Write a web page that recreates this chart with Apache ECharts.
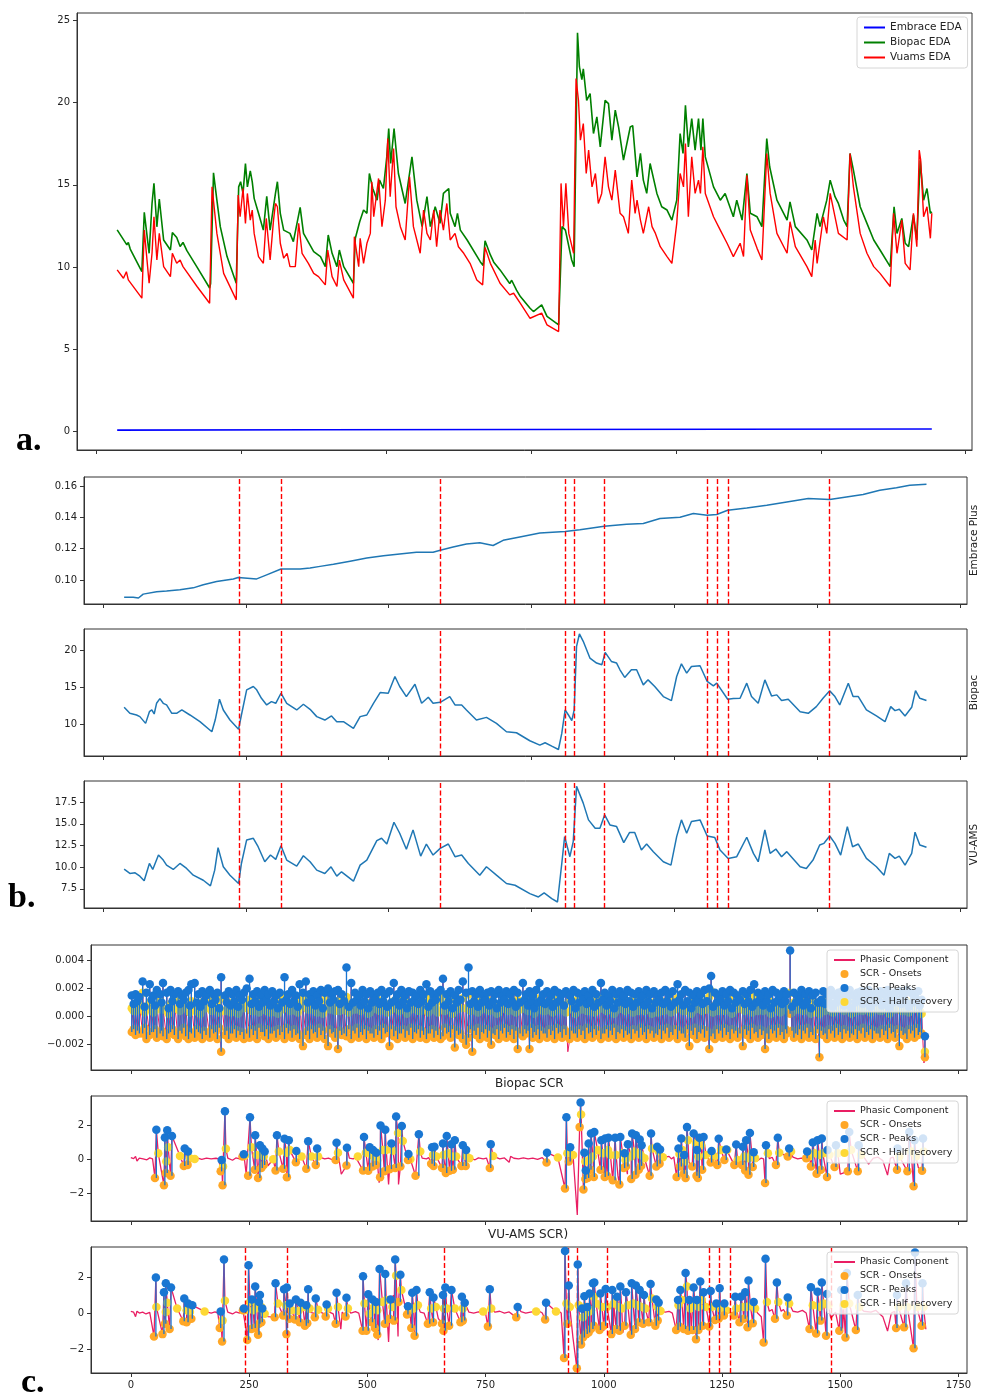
<!DOCTYPE html>
<html>
<head>
<meta charset="utf-8">
<title>EDA / SCR comparison</title>
<script src="https://cdn.jsdelivr.net/npm/echarts@6/dist/echarts.min.js"></script>
<style>
  html, body { margin: 0; padding: 0; background: #fff; }
  #chart { width: 981px; height: 1399px; }
</style>
</head>
<body>
<div id="chart"></div>
<script>
// ---------- shared x (sample index) ----------
const eventLines = [241, 330, 663, 925, 944, 1008, 1223, 1244, 1267, 1480];
const timeTicks = [-44, 256, 555, 855, 1154, 1454, 1753];      // panels a, b (no labels)
const sampleTicks = [0, 250, 500, 750, 1000, 1250, 1500, 1750]; // panel c

// ---------- panel a: raw EDA ----------
const edaTicks = [0, 5, 10, 15, 20, 25];
const embraceEda = [[0, 0.09], [420, 0.11], [840, 0.13], [1260, 0.145], [1683, 0.161]];
const biopacEda = [
  [0,12.26],[20,11.35],[23,11.5],[27,11.1],[51,9.73],[56,13.33],[66,10.84],[72,13.87],[76,15.1],[82,12.45],
  [87,14.14],[96,11.65],[110,11.04],[114,12.1],[118,12.0],[123,11.8],[130,11.25],[136,11.5],[144,11.0],[165,10.0],
  [191,8.73],[193,9.0],[199,15.73],[206,14.07],[213,12.46],[227,10.64],[246,9.02],[251,14.88],[255,15.19],[260,14.48],
  [265,16.3],[269,14.88],[275,15.85],[279,15.2],[283,14.18],[292,13.27],[302,12.25],[309,14.3],[316,12.25],[327,14.48],
  [331,15.19],[337,13.27],[344,12.25],[357,12.05],[364,11.55],[378,13.63],[385,12.05],[406,10.94],[420,10.64],[430,10.03],
  [436,11.95],[444,10.84],[454,10.03],[459,11.04],[468,10.03],[488,9.02],[492,11.75],[501,12.76],[509,13.47],[516,13.27],
  [521,15.69],[528,14.78],[537,14.07],[542,15.29],[550,14.78],[557,16.7],[561,18.42],[565,16.3],[572,18.42],[581,15.69],
  [595,13.87],[609,16.7],[619,14.07],[630,12.46],[640,14.28],[647,12.46],[657,13.67],[667,12.66],[674,14.48],[685,14.78],
  [688,13.27],[698,12.46],[703,13.27],[709,12.25],[723,11.65],[750,10.33],[756,10.1],[760,11.6],[771,10.74],[778,10.3],
  [791,9.83],[811,9.0],[815,9.2],[825,8.6],[833,8.21],[853,7.5],[860,7.3],[877,7.7],[888,7.0],[912,6.49],
  [919,12.46],[926,12.25],[939,10.43],[944,10.03],[951,24.25],[955,22.17],[960,21.4],[963,22.06],[970,20.14],[977,20.55],
  [984,18.12],[991,19.13],[998,17.31],[1008,20.14],[1015,19.94],[1022,17.72],[1029,19.54],[1036,18.5],[1046,16.5],[1060,18.52],
  [1065,18.6],[1074,15.49],[1081,16.91],[1087,15.29],[1094,14.48],[1101,16.3],[1115,14.48],[1125,13.67],[1136,13.47],[1146,12.86],
  [1156,14.07],[1163,18.12],[1169,16.91],[1174,19.84],[1180,17.31],[1187,19.03],[1194,17.11],[1201,19.03],[1206,17.11],[1210,19.03],
  [1215,16.7],[1232,14.88],[1246,14.07],[1256,14.48],[1273,13.06],[1280,14.07],[1291,12.86],[1301,15.69],[1308,13.27],[1322,13.06],
  [1332,12.46],[1342,17.82],[1348,16.1],[1363,14.07],[1384,12.86],[1390,13.97],[1401,12.46],[1425,11.65],[1435,11.04],[1446,13.27],
  [1452,12.46],[1466,14.07],[1473,15.29],[1483,14.28],[1490,13.87],[1501,12.86],[1508,12.46],[1514,16.91],[1521,15.9],[1535,13.67],
  [1549,12.66],[1563,11.65],[1576,11.04],[1597,10.03],[1605,13.67],[1611,12.05],[1621,12.96],[1628,11.45],[1635,11.24],[1645,13.17],
  [1652,11.65],[1659,16.5],[1666,14.07],[1673,14.78],[1680,13.27],[1683,13.37]
];
const vuamsEda = [
  [0,9.83],[13,9.32],[19,9.72],[23,9.22],[51,8.11],[56,12.25],[66,9.02],[72,10.84],[76,13.06],[82,10.43],
  [87,12.05],[96,10.03],[110,9.42],[114,10.84],[118,10.84],[123,10.23],[130,10.43],[136,10.03],[165,8.82],[191,7.8],
  [196,14.88],[206,12.05],[220,9.62],[246,8.01],[250,14.38],[254,13.06],[260,14.78],[265,12.66],[269,14.48],[275,12.86],
  [279,13.47],[283,12.05],[292,10.64],[302,10.23],[308,12.96],[316,10.43],[323,12.86],[327,13.87],[331,13.67],[337,11.45],
  [344,10.54],[351,10.84],[357,10.03],[368,10.03],[375,12.66],[382,10.84],[395,10.23],[406,9.62],[416,9.42],[430,8.92],
  [435,11.04],[444,9.42],[454,8.82],[459,10.43],[468,9.22],[488,8.11],[490,11.85],[499,10.03],[502,11.75],[509,10.23],
  [516,11.45],[523,12.05],[526,15.19],[530,13.06],[540,15.39],[547,12.46],[554,14.07],[559,17.82],[564,14.28],[571,17.21],
  [576,13.67],[585,12.46],[595,11.65],[604,15.49],[612,12.46],[626,10.84],[633,13.47],[640,12.05],[647,11.65],[654,13.47],
  [660,11.24],[667,13.47],[674,12.25],[681,13.87],[688,11.65],[698,12.05],[705,11.24],[716,10.84],[729,10.23],[743,9.22],
  [755,8.92],[760,11.2],[771,10.23],[791,9.02],[811,8.31],[819,8.41],[833,7.8],[853,6.89],[877,7.2],[888,6.49],
  [912,6.08],[917,15.09],[922,12.46],[927,15.09],[933,12.05],[943,10.84],[948,21.46],[953,20.14],[957,17.72],[963,18.73],
  [969,15.69],[974,17.11],[981,14.88],[988,15.69],[994,13.87],[1001,14.48],[1008,16.7],[1015,14.88],[1022,14.07],[1029,15.9],
  [1039,13.27],[1046,13.06],[1056,12.05],[1063,15.29],[1070,13.27],[1074,14.07],[1081,12.86],[1087,12.05],[1098,13.67],[1105,12.46],
  [1112,12.05],[1122,11.24],[1136,10.64],[1146,10.23],[1156,12.66],[1163,15.69],[1170,14.88],[1174,17.51],[1180,13.06],[1187,16.7],
  [1194,14.48],[1201,15.29],[1205,14.48],[1210,17.31],[1215,14.48],[1232,13.06],[1246,12.25],[1260,11.45],[1273,10.64],[1287,11.45],
  [1294,10.64],[1301,15.59],[1308,12.25],[1322,11.14],[1332,10.43],[1342,16.91],[1349,14.48],[1363,12.05],[1384,10.84],[1390,12.76],
  [1401,11.24],[1425,10.03],[1435,9.42],[1442,11.65],[1446,10.23],[1459,13.06],[1466,12.05],[1473,14.48],[1483,13.06],[1490,12.05],
  [1508,11.65],[1514,16.91],[1521,14.88],[1535,12.05],[1549,10.84],[1563,10.03],[1576,9.62],[1597,8.82],[1604,13.27],[1611,10.84],
  [1621,12.86],[1628,10.23],[1638,9.83],[1645,13.27],[1652,11.24],[1657,17.11],[1660,16.5],[1666,13.06],[1673,13.67],[1680,11.75],
  [1683,13.27]
];

// ---------- panel b: smoothed tonic signals ----------
const embracePlusTicks = [0.10, 0.12, 0.14, 0.16];
const biopacTicks = [10, 15, 20];
const vuamsTicks = [7.5, 10, 12.5, 15, 17.5];
const embracePlus = [
  [0,0.089],[19,0.089],[30,0.0885],[40,0.091],[68,0.0925],[89,0.093],[117,0.0938],[145,0.095],[166,0.097],[194,0.099],
  [229,0.1007],[239,0.1016],[278,0.1007],[299,0.1033],[329,0.107],[369,0.107],[390,0.1077],[411,0.1087],[439,0.110],[474,0.112],
  [509,0.114],[544,0.1155],[578,0.1166],[613,0.1177],[648,0.1177],[663,0.119],[690,0.121],[718,0.123],[746,0.1237],[774,0.122],
  [795,0.1253],[830,0.1275],[872,0.130],[925,0.131],[956,0.132],[1007,0.1343],[1054,0.1356],[1089,0.136],[1124,0.1392],[1166,0.140],
  [1194,0.1424],[1223,0.1413],[1243,0.1418],[1266,0.1445],[1306,0.146],[1348,0.1477],[1390,0.1498],[1435,0.152],[1480,0.1513],[1515,0.153],
  [1550,0.1545],[1585,0.1573],[1620,0.1588],[1648,0.1605],[1683,0.161]
];
const biopacTonic = [
  [0,12.26],[12,11.45],[26,11.22],[33,11.0],[45,10.09],[53,11.67],[58,11.9],[63,11.36],[68,12.8],[75,13.44],
  [82,12.8],[89,12.58],[100,11.45],[110,11.45],[121,11.9],[138,11.22],[159,10.32],[184,8.96],[191,10.54],[200,13.35],
  [208,11.9],[222,10.54],[240,9.28],[246,11.22],[257,14.62],[271,15.07],[278,14.62],[288,13.48],[299,12.58],[309,13.03],
  [318,12.8],[329,14.16],[341,12.8],[362,11.9],[376,12.67],[390,11.99],[404,11.0],[421,10.54],[435,11.09],[446,10.32],
  [460,10.32],[481,9.41],[495,11.0],[509,11.22],[523,12.8],[537,14.25],[554,14.16],[568,16.42],[578,15.07],[592,13.71],
  [610,15.38],[624,12.8],[638,13.62],[648,12.8],[663,12.94],[683,13.71],[694,12.58],[708,12.58],[718,11.9],[739,10.54],
  [760,10.9],[781,10.09],[802,8.96],[823,8.82],[851,7.74],[872,7.15],[883,7.47],[897,7.01],[911,6.56],[918,8.73],
  [925,11.9],[932,11.22],[939,10.45],[944,11.9],[949,20.5],[955,22.17],[963,21.18],[977,18.91],[991,18.24],[1002,18.0],
  [1009,19.68],[1022,18.46],[1033,18.24],[1040,17.33],[1050,16.29],[1064,17.33],[1075,17.33],[1089,15.29],[1099,15.97],[1113,15.07],
  [1131,13.71],[1148,13.17],[1159,16.42],[1169,18.14],[1180,16.88],[1190,17.78],[1208,17.87],[1223,15.75],[1236,15.16],[1243,15.52],
  [1266,13.35],[1278,13.44],[1292,13.48],[1306,15.52],[1316,13.71],[1330,12.8],[1344,15.97],[1358,13.8],[1369,13.94],[1379,13.17],
  [1393,13.35],[1418,11.67],[1435,11.45],[1452,12.35],[1466,13.48],[1480,14.48],[1491,13.71],[1501,12.58],[1519,15.52],[1529,13.71],
  [1540,13.71],[1557,11.9],[1578,11.09],[1596,10.32],[1608,12.35],[1617,11.81],[1626,11.99],[1638,11.09],[1652,12.26],[1660,14.52],
  [1669,13.48],[1683,13.17]
];
const vuamsTonic = [
  [0,9.78],[12,9.28],[23,9.35],[33,8.97],[42,8.43],[53,10.43],[60,9.74],[72,11.4],[82,10.82],[89,10.24],
  [103,9.74],[117,10.43],[131,9.86],[145,9.08],[166,8.5],[181,7.85],[190,9.66],[197,12.25],[208,10.05],[222,9.08],
  [240,8.12],[246,10.43],[257,13.14],[271,13.33],[281,12.36],[295,10.63],[307,11.4],[318,10.9],[329,12.48],[341,10.82],
  [362,10.13],[376,11.32],[390,10.63],[404,9.66],[421,9.28],[434,10.05],[446,8.97],[456,9.47],[481,8.39],[495,10.24],
  [509,10.82],[530,13.06],[540,13.33],[551,12.67],[566,15.18],[578,13.91],[592,12.06],[606,14.3],[622,11.28],[634,12.67],
  [648,11.4],[663,12.17],[680,12.67],[694,11.21],[708,11.4],[722,10.43],[746,9.08],[760,10.05],[781,9.08],[802,8.12],
  [820,7.92],[851,6.96],[869,6.57],[881,7.04],[897,6.38],[909,5.99],[918,10.43],[924,13.52],[935,11.21],[942,12.94],
  [949,19.31],[963,17.38],[974,15.45],[988,14.49],[998,14.49],[1008,16.03],[1019,14.87],[1033,14.68],[1048,12.83],[1060,13.99],
  [1071,13.99],[1085,11.98],[1096,12.67],[1110,11.79],[1131,10.63],[1147,10.24],[1159,13.52],[1169,15.45],[1180,13.91],[1190,15.26],
  [1208,15.45],[1223,13.6],[1239,13.41],[1250,11.98],[1267,11.01],[1285,11.21],[1306,13.45],[1320,11.59],[1330,10.63],[1344,14.3],
  [1355,11.59],[1367,12.09],[1379,11.21],[1390,11.79],[1418,10.05],[1431,9.86],[1445,10.82],[1459,12.56],[1468,12.75],[1480,13.6],
  [1491,12.75],[1503,11.4],[1517,14.68],[1528,12.36],[1540,12.67],[1557,11.01],[1578,10.05],[1594,9.08],[1605,11.59],[1617,11.01],
  [1626,11.28],[1638,10.24],[1652,11.59],[1659,14.03],[1669,12.56],[1683,12.29]
];

// ---------- panel c: SCR decomposition ----------
const embScrTicks = [-0.002, 0, 0.002, 0.004];
const scrTicks = [-2, 0, 2];
// Embrace: [x, onset, peak, half recovery] - larger responses
const embraceScr = [
  [2,-0.0011,0.0015,0.0006],[10,-0.0013,0.0016,0.0004],[18,-0.0012,0.0014,0.0009],[25,-0.0012,0.0025,0.0017],[33,-0.0016,0.0017,0.0005],
  [40,-0.0013,0.0023,0.0010],[48,-0.0011,0.0015,0.0003],[55,-0.0015,0.0019,0.0008],[62,-0.0012,0.0016,0.0011],[68,-0.0014,0.0024,0.0006],
  [76,-0.0016,0.0017,0.0004],[84,-0.0011,0.0019,0.0009],[92,-0.0013,0.0016,0.0012],[100,-0.0016,0.0018,0.0005],[108,-0.0012,0.0015,0.0013],
  [116,-0.0014,0.0017,0.0007],[122,-0.0016,0.0019,0.0004],[128,-0.0012,0.0023,0.0011],[135,-0.0015,0.0024,0.0008],[143,-0.0011,0.0016,0.0003],
  [151,-0.0016,0.0018,0.0010],[159,-0.0013,0.0015,0.0006],[167,-0.0015,0.0019,0.0012],[175,-0.0012,0.0016,0.0005],[183,-0.0016,0.0017,0.0009],
  [191,-0.0025,0.0028,0.0013],[199,-0.0013,0.0015,0.0004],[207,-0.0016,0.0018,0.0010],[215,-0.0012,0.0016,0.0007],[223,-0.0015,0.0019,0.0003],
  [231,-0.0013,0.0015,0.0011],[239,-0.0016,0.0017,0.0006],[245,-0.0012,0.0020,0.0009],[251,-0.0015,0.0027,0.0012],[259,-0.0013,0.0016,0.0004],
  [267,-0.0016,0.0018,0.0008],[275,-0.0011,0.0015,0.0013],[283,-0.0014,0.0019,0.0005],[291,-0.0016,0.0016,0.0010],[299,-0.0012,0.0018,0.0007],
  [307,-0.0015,0.0015,0.0003],[315,-0.0013,0.0017,0.0011],[325,-0.0016,0.0028,0.0015],[333,-0.0012,0.0016,0.0006],[341,-0.0015,0.0019,0.0009],
  [349,-0.0013,0.0015,0.0004],[357,-0.0016,0.0023,0.0012],[364,-0.0021,0.0017,0.0007],[370,-0.0013,0.0025,0.0013],[378,-0.0016,0.0016,0.0005],
  [386,-0.0012,0.0018,0.0010],[394,-0.0015,0.0015,0.0003],[402,-0.0013,0.0019,0.0008],[410,-0.0016,0.0017,0.0012],[417,-0.0021,0.0020,0.0006],
  [425,-0.0012,0.0016,0.0010],[432,-0.0015,0.0018,0.0004],[438,-0.0023,0.0019,0.0011],[446,-0.0013,0.0016,0.0007],[456,-0.0014,0.0035,0.0014],
  [466,-0.0016,0.0024,0.0009],[474,-0.0012,0.0017,0.0005],[482,-0.0015,0.0015,0.0012],[490,-0.0013,0.0019,0.0006],[498,-0.0016,0.0016,0.0010],
  [506,-0.0012,0.0018,0.0003],[514,-0.0015,0.0015,0.0008],[522,-0.0013,0.0017,0.0012],[530,-0.0016,0.0019,0.0005],[538,-0.0012,0.0016,0.0009],
  [547,-0.0021,0.0018,0.0004],[556,-0.0014,0.0024,0.0011],[564,-0.0016,0.0016,0.0007],[572,-0.0012,0.0019,0.0013],[580,-0.0015,0.0015,0.0005],
  [588,-0.0013,0.0018,0.0010],[596,-0.0016,0.0017,0.0006],[604,-0.0012,0.0015,0.0012],[612,-0.0015,0.0019,0.0004],[619,-0.0013,0.0016,0.0009],
  [625,-0.0016,0.0023,0.0013],[633,-0.0012,0.0018,0.0006],[641,-0.0015,0.0015,0.0010],[649,-0.0013,0.0017,0.0003],[655,-0.0016,0.0019,0.0011],
  [660,-0.0014,0.0027,0.0015],[668,-0.0012,0.0016,0.0007],[676,-0.0015,0.0018,0.0012],[685,-0.0022,0.0015,0.0005],[693,-0.0013,0.0019,0.0009],
  [702,-0.0016,0.0025,0.0013],[709,-0.0020,0.0017,0.0006],[714,-0.0015,0.0035,0.0016],[722,-0.0025,0.0018,0.0010],[730,-0.0013,0.0016,0.0004],
  [738,-0.0016,0.0019,0.0011],[746,-0.0012,0.0015,0.0007],[754,-0.0015,0.0017,0.0012],[762,-0.0020,0.0018,0.0005],[770,-0.0013,0.0016,0.0009],
  [778,-0.0016,0.0019,0.0003],[786,-0.0012,0.0015,0.0011],[794,-0.0015,0.0018,0.0006],[802,-0.0013,0.0016,0.0010],[810,-0.0016,0.0019,0.0004],
  [818,-0.0023,0.0017,0.0012],[829,-0.0014,0.0024,0.0008],[836,-0.0012,0.0016,0.0005],[843,-0.0023,0.0018,0.0011],[850,-0.0015,0.0015,0.0007],
  [857,-0.0013,0.0019,0.0013],[864,-0.0016,0.0024,0.0009],[872,-0.0012,0.0016,0.0004],[880,-0.0015,0.0018,0.0010],[888,-0.0013,0.0015,0.0006],
  [896,-0.0016,0.0019,0.0012],[904,-0.0012,0.0017,0.0005],[912,-0.0015,0.0016,0.0009],[920,-0.0013,0.0018,0.0003],[928,-0.0016,0.0015,0.0011],
  [936,-0.0012,0.0019,0.0007],[944,-0.0015,0.0017,0.0012],[952,-0.0013,0.0016,0.0005],[960,-0.0016,0.0018,0.0009],[968,-0.0012,0.0015,0.0004],
  [976,-0.0015,0.0019,0.0011],[984,-0.0013,0.0016,0.0007],[994,-0.0016,0.0024,0.0013],[1002,-0.0012,0.0017,0.0006],[1010,-0.0015,0.0015,0.0010],
  [1018,-0.0013,0.0019,0.0004],[1026,-0.0016,0.0016,0.0012],[1034,-0.0012,0.0018,0.0008],[1042,-0.0015,0.0015,0.0005],[1050,-0.0013,0.0019,0.0011],
  [1058,-0.0016,0.0017,0.0007],[1066,-0.0012,0.0016,0.0013],[1074,-0.0015,0.0018,0.0004],[1082,-0.0013,0.0015,0.0009],[1090,-0.0016,0.0019,0.0012],
  [1098,-0.0012,0.0016,0.0006],[1106,-0.0015,0.0018,0.0010],[1114,-0.0013,0.0015,0.0003],[1122,-0.0016,0.0017,0.0011],[1130,-0.0012,0.0019,0.0007],
  [1138,-0.0015,0.0016,0.0012],[1146,-0.0013,0.0018,0.0005],[1156,-0.0016,0.0023,0.0013],[1164,-0.0012,0.0016,0.0009],[1172,-0.0015,0.0019,0.0004],
  [1181,-0.0021,0.0017,0.0011],[1189,-0.0013,0.0015,0.0007],[1197,-0.0016,0.0018,0.0012],[1205,-0.0012,0.0016,0.0005],[1213,-0.0015,0.0019,0.0010],
  [1223,-0.0023,0.0020,0.0014],[1227,-0.0014,0.0029,0.0018],[1235,-0.0016,0.0017,0.0008],[1243,-0.0012,0.0015,0.0004],[1251,-0.0015,0.0018,0.0011],
  [1259,-0.0013,0.0016,0.0007],[1267,-0.0016,0.0019,0.0012],[1275,-0.0012,0.0017,0.0005],[1283,-0.0015,0.0015,0.0009],[1294,-0.0021,0.0018,0.0013],
  [1302,-0.0013,0.0016,0.0006],[1310,-0.0016,0.0019,0.0010],[1318,-0.0012,0.0023,0.0014],[1326,-0.0015,0.0017,0.0004],[1334,-0.0013,0.0015,0.0011],
  [1341,-0.0023,0.0018,0.0007],[1349,-0.0016,0.0016,0.0012],[1357,-0.0012,0.0019,0.0005],[1365,-0.0015,0.0017,0.0009],[1373,-0.0013,0.0015,0.0003],
  [1381,-0.0016,0.0018,0.0011],[1387,-0.0012,0.0016,0.0007],[1394,0.0002,0.0047,0.0017],[1402,-0.0015,0.0017,0.0010],[1410,-0.0013,0.0015,0.0005],
  [1418,-0.0016,0.0019,0.0012],[1426,-0.0012,0.0016,0.0008],[1434,-0.0015,0.0018,0.0004],[1442,-0.0013,0.0015,0.0011],[1448,-0.0016,0.0017,0.0007],
  [1456,-0.0029,0.0010,0.0002],[1464,-0.0013,0.0018,0.0012],[1472,-0.0016,0.0016,0.0005],[1480,-0.0012,0.0019,0.0009],[1488,-0.0015,0.0015,0.0004],
  [1496,-0.0013,0.0017,0.0011],[1504,-0.0016,0.0018,0.0007],[1512,-0.0012,0.0016,0.0012],[1520,-0.0015,0.0019,0.0005],[1528,-0.0013,0.0015,0.0010],
  [1536,-0.0016,0.0017,0.0004],[1544,-0.0012,0.0018,0.0011],[1552,-0.0015,0.0016,0.0007],[1560,-0.0013,0.0019,0.0012],[1568,-0.0016,0.0015,0.0005],
  [1576,-0.0012,0.0017,0.0009],[1584,-0.0015,0.0018,0.0004],[1592,-0.0013,0.0016,0.0011],[1600,-0.0016,0.0019,0.0007],[1608,-0.0012,0.0015,0.0012],
  [1616,-0.0015,0.0017,0.0005],[1625,-0.0021,0.0018,0.0010],[1633,-0.0013,0.0016,0.0004],[1641,-0.0016,0.0019,0.0011],[1649,-0.0012,0.0017,0.0007],
  [1657,-0.0015,0.0015,0.0012],[1665,-0.0013,0.0018,0.0005],[1672,-0.0012,0.0012,0.0002],[1679,-0.0029,-0.0014,-0.0025]
];
// Embrace: smaller responses in between
const embraceScrSmall = [
  [6,-0.0009,0.0009,0.0004],[14,-0.0010,0.0011,0.0005],[29,-0.0008,0.0007,0.0003],[44,-0.0011,0.0012,0.0006],[51,-0.0009,0.0008,0.0004],
  [65,-0.0010,0.0010,0.0005],[80,-0.0012,0.0006,0.0002],[88,-0.0009,0.0011,0.0006],[104,-0.0010,0.0009,0.0004],[112,-0.0008,0.0012,0.0007],
  [125,-0.0011,0.0008,0.0003],[139,-0.0009,0.0010,0.0005],[147,-0.0012,0.0007,0.0002],[155,-0.0010,0.0011,0.0006],[171,-0.0009,0.0009,0.0004],
  [179,-0.0011,0.0012,0.0005],[187,-0.0008,0.0006,0.0003],[203,-0.0010,0.0010,0.0005],[211,-0.0012,0.0008,0.0003],[219,-0.0009,0.0011,0.0006],
  [227,-0.0010,0.0007,0.0002],[235,-0.0011,0.0012,0.0006],[255,-0.0009,0.0009,0.0004],[263,-0.0010,0.0011,0.0005],[271,-0.0008,0.0007,0.0003],
  [279,-0.0011,0.0010,0.0006],[287,-0.0009,0.0012,0.0004],[295,-0.0012,0.0008,0.0003],[303,-0.0010,0.0011,0.0005],[311,-0.0009,0.0006,0.0002],
  [320,-0.0011,0.0010,0.0005],[329,-0.0008,0.0012,0.0006],[337,-0.0010,0.0009,0.0004],[345,-0.0009,0.0011,0.0005],[353,-0.0012,0.0007,0.0003],
  [374,-0.0010,0.0010,0.0005],[382,-0.0009,0.0012,0.0006],[390,-0.0011,0.0008,0.0004],[398,-0.0008,0.0011,0.0005],[406,-0.0010,0.0006,0.0002],
  [421,-0.0009,0.0010,0.0005],[428,-0.0011,0.0012,0.0006],[442,-0.0010,0.0009,0.0004],[451,-0.0012,0.0011,0.0005],[461,-0.0009,0.0007,0.0003],
  [470,-0.0010,0.0010,0.0005],[478,-0.0008,0.0012,0.0006],[486,-0.0011,0.0008,0.0004],[494,-0.0009,0.0011,0.0005],[502,-0.0010,0.0006,0.0002],
  [510,-0.0012,0.0010,0.0005],[518,-0.0009,0.0012,0.0006],[526,-0.0010,0.0009,0.0004],[534,-0.0008,0.0011,0.0005],[542,-0.0011,0.0007,0.0003],
  [551,-0.0009,0.0010,0.0005],[560,-0.0010,0.0012,0.0006],[568,-0.0012,0.0008,0.0004],[576,-0.0009,0.0011,0.0005],[584,-0.0010,0.0006,0.0002],
  [592,-0.0008,0.0010,0.0005],[600,-0.0011,0.0012,0.0006],[608,-0.0009,0.0009,0.0004],[616,-0.0010,0.0011,0.0005],[629,-0.0012,0.0007,0.0003],
  [637,-0.0009,0.0010,0.0005],[645,-0.0010,0.0012,0.0006],[664,-0.0008,0.0008,0.0004],[672,-0.0011,0.0011,0.0005],[680,-0.0009,0.0006,0.0002],
  [689,-0.0010,0.0010,0.0005],[697,-0.0012,0.0012,0.0006],[718,-0.0009,0.0009,0.0004],[726,-0.0010,0.0011,0.0005],[734,-0.0008,0.0007,0.0003],
  [742,-0.0011,0.0010,0.0005],[750,-0.0009,0.0012,0.0006],[758,-0.0010,0.0008,0.0004],[766,-0.0012,0.0011,0.0005],[774,-0.0009,0.0006,0.0002],
  [782,-0.0010,0.0010,0.0005],[790,-0.0008,0.0012,0.0006],[798,-0.0011,0.0009,0.0004],[806,-0.0009,0.0011,0.0005],[814,-0.0010,0.0007,0.0003],
  [823,-0.0012,0.0010,0.0005],[833,-0.0009,0.0012,0.0006],[840,-0.0010,0.0008,0.0004],[847,-0.0008,0.0011,0.0005],[853,-0.0011,0.0006,0.0002],
  [861,-0.0009,0.0010,0.0005],[868,-0.0010,0.0012,0.0006],[876,-0.0012,0.0009,0.0004],[884,-0.0009,0.0011,0.0005],[892,-0.0010,0.0007,0.0003],
  [900,-0.0008,0.0010,0.0005],[908,-0.0011,0.0012,0.0006],[916,-0.0009,0.0008,0.0004],[932,-0.0010,0.0011,0.0005],[940,-0.0012,0.0006,0.0002],
  [948,-0.0009,0.0010,0.0005],[956,-0.0010,0.0012,0.0006],[964,-0.0008,0.0009,0.0004],[972,-0.0011,0.0011,0.0005],[980,-0.0009,0.0007,0.0003],
  [989,-0.0010,0.0010,0.0005],[998,-0.0012,0.0012,0.0006],[1006,-0.0009,0.0008,0.0004],[1014,-0.0010,0.0011,0.0005],[1022,-0.0008,0.0006,0.0002],
  [1030,-0.0011,0.0010,0.0005],[1038,-0.0009,0.0012,0.0006],[1046,-0.0010,0.0009,0.0004],[1054,-0.0012,0.0011,0.0005],[1062,-0.0009,0.0007,0.0003],
  [1070,-0.0010,0.0010,0.0005],[1078,-0.0008,0.0012,0.0006],[1086,-0.0011,0.0008,0.0004],[1094,-0.0009,0.0011,0.0005],[1102,-0.0010,0.0006,0.0002],
  [1110,-0.0012,0.0010,0.0005],[1118,-0.0009,0.0012,0.0006],[1126,-0.0010,0.0009,0.0004],[1134,-0.0008,0.0011,0.0005],[1142,-0.0011,0.0007,0.0003],
  [1151,-0.0009,0.0010,0.0005],[1160,-0.0010,0.0012,0.0006],[1168,-0.0012,0.0008,0.0004],[1177,-0.0009,0.0011,0.0005],[1185,-0.0010,0.0006,0.0002],
  [1193,-0.0008,0.0010,0.0005],[1201,-0.0011,0.0012,0.0006],[1209,-0.0009,0.0009,0.0004],[1218,-0.0010,0.0011,0.0005],[1231,-0.0012,0.0007,0.0003],
  [1239,-0.0009,0.0010,0.0005],[1247,-0.0010,0.0012,0.0006],[1255,-0.0008,0.0008,0.0004],[1263,-0.0011,0.0011,0.0005],[1271,-0.0009,0.0006,0.0002],
  [1279,-0.0010,0.0010,0.0005],[1288,-0.0012,0.0012,0.0006],[1298,-0.0009,0.0009,0.0004],[1306,-0.0010,0.0011,0.0005],[1314,-0.0008,0.0007,0.0003],
  [1322,-0.0011,0.0010,0.0005],[1330,-0.0009,0.0012,0.0006],[1337,-0.0010,0.0008,0.0004],[1345,-0.0012,0.0011,0.0005],[1353,-0.0009,0.0006,0.0002],
  [1361,-0.0010,0.0010,0.0005],[1369,-0.0008,0.0012,0.0006],[1377,-0.0011,0.0009,0.0004],[1384,-0.0009,0.0011,0.0005],[1398,-0.0010,0.0007,0.0003],
  [1406,-0.0012,0.0010,0.0005],[1414,-0.0009,0.0012,0.0006],[1422,-0.0010,0.0008,0.0004],[1430,-0.0008,0.0011,0.0005],[1438,-0.0011,0.0006,0.0002],
  [1452,-0.0009,0.0010,0.0005],[1460,-0.0010,0.0012,0.0006],[1468,-0.0012,0.0009,0.0004],[1476,-0.0009,0.0011,0.0005],[1484,-0.0010,0.0007,0.0003],
  [1492,-0.0008,0.0010,0.0005],[1500,-0.0011,0.0012,0.0006],[1508,-0.0009,0.0008,0.0004],[1516,-0.0010,0.0011,0.0005],[1524,-0.0012,0.0006,0.0002],
  [1532,-0.0009,0.0010,0.0005],[1540,-0.0010,0.0012,0.0006],[1548,-0.0008,0.0009,0.0004],[1556,-0.0011,0.0011,0.0005],[1564,-0.0009,0.0007,0.0003],
  [1572,-0.0010,0.0010,0.0005],[1580,-0.0012,0.0012,0.0006],[1588,-0.0009,0.0008,0.0004],[1596,-0.0010,0.0011,0.0005],[1604,-0.0008,0.0006,0.0002],
  [1612,-0.0011,0.0010,0.0005],[1620,-0.0009,0.0012,0.0006],[1629,-0.0010,0.0009,0.0004],[1637,-0.0012,0.0011,0.0005],[1645,-0.0009,0.0007,0.0003],
  [1653,-0.0010,0.0010,0.0005],[1661,-0.0008,0.0012,0.0006],[1668,-0.0011,0.0008,0.0004]
];
const embracePhasicExtra = [[924,-0.0025],[1677,-0.0033]];

// Biopac / VU-AMS: [onsetX, onsetY, peakX, peakY, halfX, halfY]
const biopacScr = [
  [51,-1.12,54,1.72,58,0.33],[70,-1.55,72,1.26,75,-0.15],[74,-0.83,77,1.68,79,0.68],[84,-0.99,87,1.35,104,0.17],
  [112,-0.41,114,0.62,125,0.04],[120,-0.35,121,0.43,135,0.0],[190,-0.73,192,-0.06,195,-0.44],[194,-1.55,199,2.8,201,0.6],
  [236,0.14,239,0.27,241,0.19],[248,-0.99,252,2.45,255,0.68],[262,-0.64,263,1.39,266,0.23],[269,-1.12,273,0.81,280,0.33],
  [276,-0.54,278,0.62,281,0.14],[281,-0.35,283,0.43,301,-0.02],[306,-0.68,309,1.39,313,0.43],[322,-0.58,325,1.18,329,0.37],
  [330,-1.08,334,1.1,336,0.52],[349,-0.19,350,0.46,361,0.14],[371,-0.58,375,1.04,382,0.14],[391,-0.35,394,0.62,396,0.14],
  [433,-0.06,435,0.95,438,0.37],[456,-0.39,457,0.66,480,0.14],[491,-0.68,493,1.29,497,0.37],[502,-0.7,505,0.68,509,0.23],
  [511,-0.44,512,0.52,516,0.04],[518,-0.35,519,0.37,521,-0.06],[527,-1.08,528,1.97,533,0.52],[536,-0.73,538,1.72,540,0.52],
  [547,-0.6,551,0.91,554,0.48],[559,-0.54,561,2.49,565,1.53],[570,-0.44,573,1.93,575,1.06],[586,-0.06,587,0.29,591,-0.02],
  [602,-0.99,609,1.45,612,0.43],[635,-0.29,637,0.68,639,0.23],[640,-0.41,642,0.71,646,0.14],[658,-0.54,660,0.91,661,0.23],
  [666,-0.83,668,1.35,671,0.33],[674,-0.7,678,0.87,680,0.14],[681,-0.64,685,1.1,688,0.14],[699,-0.41,702,0.81,709,0.17],
  [708,-0.41,709,0.52,716,0.04],[759,-0.54,761,0.87,766,0.17],
  [879,-0.21,880,0.37,903,0.08],[918,-1.74,921,2.45,923,0.33],[926,-0.15,929,0.68,935,0.23],[949,1.87,951,3.32,952,2.61],
  [957,-1.8,959,0.37,961,-0.15],[961,-1.18,962,-0.68,964,-0.83],[966,-1.12,968,0.91,970,-0.06],[972,-0.64,973,1.49,977,0.14],
  [979,-1.06,980,1.58,987,0.52],[993,-0.64,995,1.1,998,0.33],[1002,-1.06,1003,1.2,1009,0.52],[1007,-0.99,1010,1.24,1014,0.23],
  [1019,-1.26,1024,1.24,1026,0.23],[1033,-1.51,1035,1.29,1040,0.33],[1042,-0.54,1044,0.33,1046,-0.06],[1047,-0.44,1051,0.87,1058,0.14],
  [1058,-1.18,1060,1.49,1065,0.43],[1067,-0.93,1068,1.39,1072,0.33],[1074,-0.64,1076,1.14,1078,0.23],[1079,-0.41,1080,0.81,1086,0.04],
  [1097,-0.99,1100,1.49,1102,0.62],[1111,-0.44,1113,0.71,1116,0.43],[1118,-0.29,1119,0.56,1125,0.1],[1154,-1.06,1158,0.62,1160,0.29],
  [1161,-0.44,1164,1.2,1166,0.52],[1169,-0.87,1170,0.23,1171,-0.15],[1173,-1.12,1176,1.87,1178,1.1],[1187,-0.44,1190,1.49,1195,0.91],
  [1196,-0.99,1197,0.52,1200,0.14],[1199,-1.12,1202,1.24,1206,0.81],[1208,-0.64,1211,1.29,1216,0.23],[1226,-0.21,1228,0.46,1234,0.14],
  [1240,-0.35,1243,1.18,1248,0.52],[1255,-0.06,1259,0.56,1261,0.52],[1276,-0.35,1280,0.85,1283,-0.06],[1292,-0.35,1294,0.71,1297,0.14],
  [1299,-0.68,1301,1.1,1306,0.04],[1306,-0.93,1309,1.53,1313,0.33],[1315,-0.48,1317,0.39,1320,0.04],[1341,-1.41,1343,0.81,1347,0.33],
  [1364,-0.35,1368,1.24,1371,0.37],[1389,0.14,1392,0.62,1396,0.43],[1428,0.04,1430,0.43,1435,0.14],[1438,-0.44,1442,0.97,1445,0.33],
  [1450,-0.87,1452,1.1,1456,0.23],[1459,-0.64,1461,1.2,1463,0.33],[1472,-1.06,1473,0.52,1477,0.23],[1488,-0.48,1491,0.81,1495,0.33],
  [1516,-0.73,1519,1.58,1523,0.52],[1537,-0.73,1539,0.81,1544,0.23],[1620,-0.64,1621,0.62,1625,0.14],[1642,-0.73,1646,1.58,1650,0.43],
  [1655,-1.6,1657,1.1,1660,0.14],[1673,-0.7,1675,1.2,1676,0.43]
];
const biopacPhasicExtra = [
  [0,0.08],[6,0.02],[10,0.15],[13,-0.12],[18,0.05],[26,0.0],[34,-0.05],[40,0.06],[46,0.0],
  [130,0.02],[140,0.06],[150,-0.03],[160,0.05],[170,0.0],[180,0.04],[186,0.0],[205,0.05],[215,-0.08],[222,0.06],[230,0.0],
  [244,-0.9],[290,-0.4],[400,0.06],[410,0.0],[418,0.05],[426,-0.05],[445,-0.9],[462,0.05],[470,0.0],[476,0.08],
  [525,-1.4],[545,-1.5],[566,-1.5],[616,0.05],[625,0.0],[630,0.08],[720,0.05],[728,-0.05],[735,0.06],[745,0.0],[752,0.05],
  [770,0.1],[780,0.0],[790,0.06],[800,-0.2],[803,0.15],[810,0.04],[820,0.0],[830,0.06],[840,0.0],[850,0.05],[860,-0.03],[870,0.08],
  [944,-3.3],[1000,-0.8],[1030,-1.0],[1050,-0.9],[1130,0.1],[1138,0.15],[1143,0.0],[1148,0.12],[1180,-0.2],
  [1325,-0.1],[1333,0.05],[1338,0.0],[1350,0.02],[1356,0.1],[1360,0.0],[1400,0.1],[1410,0.0],[1418,0.05],[1424,0.02],
  [1500,-0.9],[1550,0.1],[1560,-0.3],[1570,0.05],[1580,0.1],[1590,-0.1],[1600,-0.95],[1606,0.05],[1612,0.1],[1665,-0.5],[1674,-0.8]
];
const vuamsScr = [
  [49,-1.3,53,1.98,54,0.34],[67,-1.17,70,1.15,74,0.06],[72,-0.6,74,1.66,77,0.57],[82,-0.89,85,1.42,98,0.25],
  [111,-0.45,113,0.81,118,0.15],[118,-0.51,121,0.53,125,0.06],[128,-0.32,130,0.43,156,0.09],[188,-0.83,190,0.09,194,-0.42],
  [193,-1.58,197,2.98,199,0.68],[237,0.15,239,0.25,241,0.15],[246,-1.49,249,2.66,252,0.62],[255,-0.89,256,0.75,259,0.15],
  [261,-0.83,263,1.47,266,0.53],[269,-1.21,271,0.62,274,0.25],[271,-0.6,273,1.0,276,0.34],[276,-0.51,278,0.25,283,-0.04],
  [304,-0.23,306,1.66,311,0.53],[322,-0.13,324,1.32,328,0.43],[329,-1.17,330,1.42,333,0.34],[335,-0.32,336,0.53,340,0.15],
  [347,-0.36,349,0.75,354,0.11],[357,-0.51,359,0.57,364,0.34],[368,-0.7,371,0.43,376,0.25],[373,-0.57,375,1.32,378,0.25],
  [389,-0.23,391,0.81,396,0.19],[412,-0.19,414,0.47,417,0.25],[433,-0.6,435,1.13,438,0.34],[454,-0.19,456,0.85,459,0.25],
  [490,-0.98,491,2.04,494,0.53],[498,-0.98,502,1.04,505,-0.04],[509,-0.51,511,0.75,514,0.34],[516,-0.83,518,0.62,521,0.15],
  [521,-1.21,526,2.45,532,0.62],[537,-0.6,538,2.17,540,0.72],[547,-0.32,549,0.75,553,0.34],[556,-0.42,559,2.98,561,2.08],
  [566,0.62,570,2.13,572,1.28],[584,-0.08,586,0.38,590,0.15],[593,-0.83,595,1.13,598,0.25],[600,-1.26,604,1.28,607,0.43],
  [628,-0.6,632,1.15,635,0.25],[639,-0.51,640,0.87,645,0.34],[658,-0.6,660,1.0,662,0.25],[661,-0.98,665,1.42,668,0.25],
  [673,-0.7,678,1.28,685,0.25],[697,-0.51,700,0.91,702,0.25],[702,-0.42,706,0.57,745,0.09],[755,-0.75,759,1.32,762,0.25],
  [815,-0.23,818,0.34,857,0.09],
  [876,-0.36,878,0.57,899,0.09],[916,-2.49,918,3.45,921,0.53],[923,-0.6,926,1.53,928,0.34],[943,-3.06,945,2.7,947,0.43],
  [952,-1.74,954,0.25,956,-0.23],[956,-1.36,959,0.94,961,0.34],[963,-1.17,965,0.34,968,0.06],[968,-1.08,970,1.09,973,0.15],
  [973,-0.89,977,1.66,979,0.91],[979,-0.7,980,1.7,984,0.53],[991,-0.94,993,1.09,996,0.34],[1000,-0.7,1004,1.34,1007,0.34],
  [1016,-1.17,1018,1.28,1021,0.53],[1026,-0.89,1028,0.91,1032,0.34],[1033,-0.98,1035,1.47,1038,0.25],[1044,-0.7,1047,1.15,1051,0.43],
  [1057,-1.21,1059,1.66,1062,0.53],[1066,-0.89,1068,1.53,1072,0.43],[1074,-0.51,1076,1.28,1079,0.34],[1083,-0.6,1085,1.0,1088,0.25],
  [1095,-0.51,1099,1.62,1102,0.81],[1109,-0.7,1111,0.75,1113,0.34],[1114,-0.42,1116,0.58,1120,0.11],[1153,-0.94,1157,0.72,1158,0.43],
  [1160,-0.75,1162,1.28,1165,0.72],[1169,-0.89,1173,2.23,1176,1.47],[1178,-0.98,1181,0.72,1183,0.25],[1188,-0.94,1190,1.42,1193,0.53],
  [1195,-1.45,1197,0.72,1200,0.34],[1200,-0.94,1204,1.75,1207,0.72],[1209,-0.7,1211,1.15,1216,0.34],[1223,-0.75,1226,1.23,1228,0.34],
  [1235,-0.38,1238,0.53,1241,0.34],[1243,-0.32,1245,1.38,1247,0.25],[1254,-0.13,1255,0.53,1259,0.15],[1275,-0.13,1278,0.91,1280,0.25],
  [1287,-0.51,1290,0.91,1294,0.34],[1296,-0.32,1299,1.15,1303,0.34],[1304,-0.79,1306,1.81,1310,0.43],[1315,-0.57,1317,0.62,1320,0.25],
  [1338,-1.64,1342,3.02,1345,0.62],[1362,-0.32,1366,1.7,1369,0.62],[1387,-0.13,1389,0.87,1392,0.53],[1435,-0.89,1438,1.43,1442,0.43],
  [1449,-1.13,1452,1.19,1456,0.34],[1458,-0.42,1461,1.7,1465,0.53],[1470,-1.26,1472,1.06,1475,0.43],[1498,-0.98,1502,1.28,1507,0.43],
  [1511,-1.36,1514,2.23,1519,0.53],[1533,-0.94,1537,1.0,1540,0.34],[1618,-0.83,1620,1.0,1623,0.34],[1635,-0.79,1639,1.66,1642,0.34],
  [1655,-1.96,1658,3.36,1662,0.34],[1672,-0.7,1674,1.66,1676,0.34]
];
const vuamsPhasicExtra = [
  [0,0.09],[6,0.05],[10,-0.2],[13,0.1],[18,0.0],[25,0.05],[32,-0.05],[40,0.04],
  [160,0.05],[170,0.0],[178,0.06],[184,0.0],[205,0.05],[215,-0.05],[222,0.06],[230,0.0],[243,-0.8],[290,-0.2],
  [380,0.04],[386,0.0],[400,0.05],[406,0.0],[420,0.05],[428,-0.05],[444,-0.9],[447,0.05],[465,0.0],[475,0.08],[482,0.0],
  [523,-1.5],[545,-1.6],[555,1.0],[565,-1.3],[612,0.05],[620,0.0],[650,-0.3],[715,0.05],[725,0.0],[735,0.06],[750,0.0],
  [770,0.05],[780,0.1],[790,0.0],[800,0.06],[808,-0.1],[825,0.08],[835,0.0],[845,0.05],[865,0.08],[870,0.0],
  [905,0.1],[910,0.0],[935,-1.4],[1000,-1.0],[1020,-0.9],[1040,-1.1],[1130,0.05],[1138,0.1],[1145,0.0],[1185,-1.0],[1220,-0.2],
  [1325,0.0],[1333,-0.2],[1350,0.1],[1356,0.2],[1375,0.1],[1380,0.2],[1400,0.1],[1410,0.05],[1420,0.15],[1428,0.0],
  [1480,-0.3],[1490,0.05],[1505,-0.9],[1550,0.1],[1565,0.05],[1575,0.15],[1590,-0.2],[1600,-1.0],[1608,0.0],[1615,0.1],[1681,-0.9]
];

// ---------- helpers ----------
const FONT = 'DejaVu Sans';
const INK = '#333';
const lineNames = ['Embrace EDA', 'Biopac EDA', 'Vuams EDA', 'Phasic Component'];
const scrNames = ['Phasic Component', 'SCR - Onsets', 'SCR - Peaks', 'SCR - Half recovery'];

const grids = [
  { left: 77, top: 13, width: 895, height: 437 },   // a
  { left: 84, top: 477, width: 883, height: 127 },  // b Embrace Plus
  { left: 84, top: 629, width: 883, height: 127 },  // b Biopac
  { left: 84, top: 781, width: 883, height: 127 },  // b VU-AMS
  { left: 91, top: 945, width: 876, height: 125 },  // c Embrace
  { left: 91, top: 1096, width: 876, height: 125 }, // c Biopac
  { left: 91, top: 1247, width: 876, height: 126 }  // c VU-AMS
].map(g => Object.assign({
  show: true, borderColor: INK, borderWidth: 1, backgroundColor: 'transparent',
  containLabel: false, outerBoundsMode: 'none'
}, g));

function xAx(gi, min, max, ticks, labels) {
  return {
    type: 'value', gridIndex: gi, min: min, max: max,
    axisLine: { onZero: false, lineStyle: { color: INK } },
    axisTick: { customValues: ticks, length: 4, lineStyle: { color: INK } },
    axisLabel: { show: labels, customValues: ticks, margin: 7, color: '#222', fontSize: 10, fontFamily: FONT,
                 formatter: v => String(v) },
    splitLine: { show: false }
  };
}

function yAx(gi, min, max, ticks, fmt) {
  return {
    type: 'value', gridIndex: gi, min: min, max: max,
    axisLine: { show: true, onZero: false, lineStyle: { color: INK } },
    axisTick: { show: true, customValues: ticks, length: 4, lineStyle: { color: INK } },
    axisLabel: { customValues: ticks, margin: 7, color: '#222', fontSize: 10, fontFamily: FONT, formatter: fmt },
    splitLine: { show: false }
  };
}

function nameAx(gi, name) {
  return {
    type: 'value', gridIndex: gi, position: 'right', min: 0, max: 1,
    name: name, nameLocation: 'middle', nameRotate: 90, nameGap: 2,
    nameTextStyle: { color: '#222', fontSize: 10.5, fontFamily: FONT },
    axisLine: { show: false }, axisTick: { show: false }, axisLabel: { show: false }, splitLine: { show: false }
  };
}

const minus = s => s.replace('-', '\u2212');
const fmtInt = v => minus(String(Math.round(v)));

const dashed = {
  silent: true, symbol: ['none', 'none'], label: { show: false }, animation: false,
  lineStyle: { color: '#ff0000', type: [5, 2.5], width: 1.4 },
  data: eventLines.map(v => ({ xAxis: v }))
};

function lineSeries(name, data, gi, color, width, marks) {
  const s = {
    type: 'line', name: name, data: data, xAxisIndex: gi, yAxisIndex: gi,
    symbol: 'none', lineStyle: { color: color, width: width }, itemStyle: { color: color }, z: 2
  };
  if (marks) s.markLine = dashed;
  return s;
}

function scrSeries(events, extra, gi, marks, phasicWidth) {
  const phasic = events
    .flatMap(e => [[e[0], e[1]], [e[2], e[3]], [e[4], e[5]]])
    .concat(extra)
    .sort((p, q) => p[0] - q[0]);
  const dot = (name, xi, yi, color, z) => ({
    type: 'scatter', name: name, xAxisIndex: gi, yAxisIndex: gi, z: z,
    data: events.map(e => [e[xi], e[yi]]),
    symbolSize: 8.5, itemStyle: { color: color, opacity: 1 }
  });
  return [
    lineSeries('Phasic Component', phasic, gi, '#E91E63', phasicWidth, marks),
    dot('SCR - Half recovery', 4, 5, '#FDD835', 3),
    dot('SCR - Onsets', 0, 1, '#FFA726', 4),
    {
      // amplitude segments: onset level up to peak, at the peak position
      type: 'custom', xAxisIndex: gi, yAxisIndex: gi, z: 5, silent: true,
      data: events.map(e => [e[2], e[1], e[3]]),
      encode: { x: 0, y: [1, 2] },
      renderItem: (params, api) => {
        const a = api.coord([api.value(0), api.value(1)]);
        const b = api.coord([api.value(0), api.value(2)]);
        return { type: 'line', shape: { x1: a[0], y1: a[1], x2: b[0], y2: b[1] },
                 style: { stroke: '#1976D2', lineWidth: 1.3 } };
      }
    },
    dot('SCR - Peaks', 2, 3, '#1976D2', 6)
  ];
}

function legendAt(left, top, names, fontSize, gap) {
  return {
    data: names.map(n => lineNames.includes(n)
      ? { name: n, itemStyle: { opacity: 0, color: 'transparent', borderWidth: 0 } }
      : { name: n }),
    orient: 'vertical', left: left, top: top, z: 20,
    itemWidth: 21, itemHeight: 8, itemGap: gap, padding: [5, 6, 5, 6],
    backgroundColor: 'rgba(255,255,255,0.8)', borderColor: '#d6d6d6', borderWidth: 1, borderRadius: 3,
    textStyle: { fontSize: fontSize, color: '#222', fontFamily: FONT },
    selectedMode: false
  };
}

// ---------- option ----------
const embraceTable = embraceScr.concat(embraceScrSmall)
  .sort((p, q) => p[0] - q[0])
  .map(e => [e[0], e[1], e[0], e[2], e[0], e[3]]);

const series = [
  lineSeries('Embrace EDA', embraceEda, 0, '#0000ff', 1.6),
  lineSeries('Biopac EDA', biopacEda, 0, '#008000', 1.6),
  lineSeries('Vuams EDA', vuamsEda, 0, '#ff0000', 1.4),
  lineSeries('Embrace Plus', embracePlus, 1, '#1f77b4', 1.5, true),
  lineSeries('Biopac', biopacTonic, 2, '#1f77b4', 1.5, true),
  lineSeries('VU-AMS', vuamsTonic, 3, '#1f77b4', 1.5, true)
]
  .concat(scrSeries(embraceTable, embracePhasicExtra, 4, false, 1.0))
  .concat(scrSeries(biopacScr, biopacPhasicExtra, 5, false, 1.3))
  .concat(scrSeries(vuamsScr, vuamsPhasicExtra, 6, true, 1.3));

const option = {
  animation: false,
  backgroundColor: '#fff',
  textStyle: { fontFamily: FONT },
  grid: grids,
  xAxis: [
    xAx(0, -83, 1766, timeTicks, false),
    xAx(1, -84.2, 1768, timeTicks, false),
    xAx(2, -84.2, 1768, timeTicks, false),
    xAx(3, -84.2, 1768, timeTicks, false),
    xAx(4, -84.2, 1768, sampleTicks, false),
    xAx(5, -84.2, 1768, sampleTicks, false),
    xAx(6, -84.2, 1768, sampleTicks, true)
  ],
  yAxis: [
    yAx(0, -1.12, 25.45, edaTicks, fmtInt),
    yAx(1, 0.0847, 0.1657, embracePlusTicks, v => v.toFixed(2)),
    yAx(2, 5.68, 22.84, biopacTicks, fmtInt),
    yAx(3, 5.3, 19.93, vuamsTicks, v => v.toFixed(1)),
    yAx(4, -0.0038, 0.0051, embScrTicks, v => minus(v.toFixed(3))),
    yAx(5, -3.65, 3.7, scrTicks, fmtInt),
    yAx(6, -3.33, 3.67, scrTicks, fmtInt),
    nameAx(1, 'Embrace Plus'),
    nameAx(2, 'Biopac'),
    nameAx(3, 'VU-AMS')
  ],
  legend: [
    legendAt(857, 17, ['Embrace EDA', 'Biopac EDA', 'Vuams EDA'], 10.5, 4),
    legendAt(827, 950, scrNames, 9.5, 4),
    legendAt(827, 1101, scrNames, 9.5, 4),
    legendAt(827, 1252, scrNames, 9.5, 4)
  ],
  graphic: [
    { type: 'text', left: 16, top: 424, style: { text: 'a.', font: 'bold 34px "Liberation Serif"', fill: '#000' } },
    { type: 'text', left: 8, top: 881, style: { text: 'b.', font: 'bold 34px "Liberation Serif"', fill: '#000' } },
    { type: 'text', left: 21, top: 1366, style: { text: 'c.', font: 'bold 34px "Liberation Serif"', fill: '#000' } },
    { type: 'text', left: 495, top: 1078, style: { text: 'Biopac SCR', font: '12px "DejaVu Sans"', fill: '#222' } },
    { type: 'text', left: 488, top: 1229, style: { text: 'VU-AMS SCR)', font: '12px "DejaVu Sans"', fill: '#222' } }
  ],
  series: series
};

const chart = echarts.init(document.getElementById('chart'), null, { renderer: 'canvas' });
chart.setOption(option);
</script>
</body>
</html>
